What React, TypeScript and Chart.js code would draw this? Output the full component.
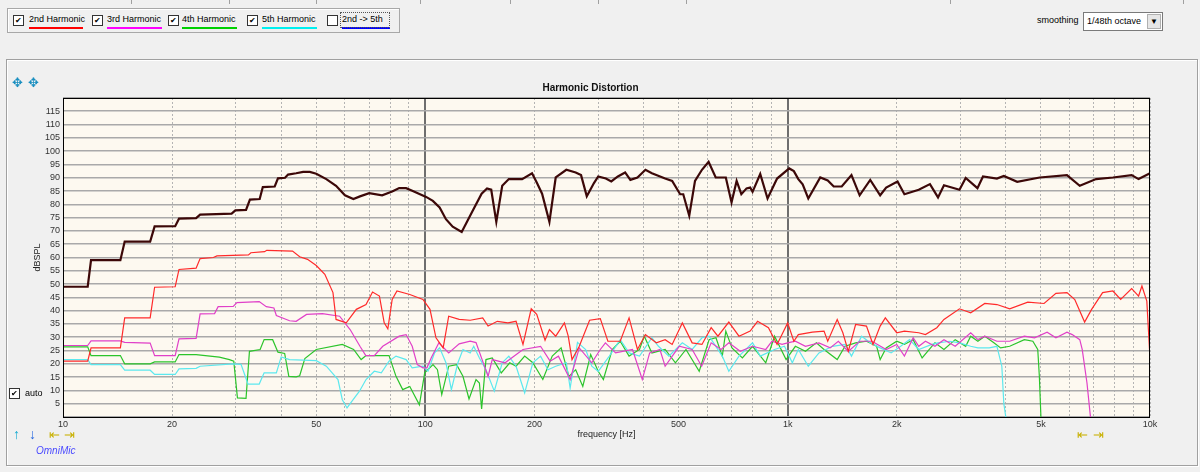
import { useEffect, useRef } from "react";
import { Chart, registerables } from "chart.js";

Chart.register(...registerables);

// fundamental and harmonics, [frequency Hz, dB SPL]
const fundamental: number[][] = [
  [10, 49], [11.7, 49], [11.95, 59], [14.4, 59], [14.8, 66], [17.4, 66], [17.9, 71.7], [20.4, 71.8],
  [20.9, 74.6], [23.3, 74.8], [23.9, 76.1], [26.5, 76.3], [29.2, 76.5], [29.9, 77.7], [32.0, 77.9],
  [32.8, 81.8], [34.9, 82], [35.6, 86.5], [38.4, 86.7], [39.2, 89.8], [41.0, 90], [41.8, 91.2], [44, 91.7],
  [46, 92.2], [48, 92.2], [50, 91.5], [53.3, 89.5], [56.7, 87], [60, 83.4], [63.3, 82], [66, 83], [70, 84.2],
  [76, 83.4], [81, 84.8], [84.7, 86.1], [88.5, 86.1], [92, 85.1], [100.5, 82.8], [104.9, 81.3], [109.5, 78.8],
  [114, 74.4], [119, 71.6], [126, 69.6], [135, 77.5], [143, 84], [148, 86], [152, 85.5], [157, 73.4], [163, 87],
  [170, 89.5], [185, 89.5], [197, 91.7], [203, 88.2], [210, 84], [220, 73.4], [229, 90.1], [245, 93], [260, 92],
  [269, 91], [279, 83], [292, 88], [300, 90.5], [315, 89.7], [326, 88.6], [340, 90.5], [356, 92], [368, 89.2],
  [385, 90.1], [405, 93], [422, 91.7], [459, 89.7], [480, 88.8], [505, 83.8], [515, 83.8], [535, 75.7],
  [555, 88.8], [580, 93], [605, 96], [633, 90.1], [675, 90.1], [700, 80.7], [723, 88.8], [745, 83.8], [770, 86],
  [788, 86.3], [800, 84.7], [840, 91.4], [880, 82.2], [935, 89.7], [1010, 93.5], [1040, 92.5], [1070, 89.5],
  [1100, 87.5], [1140, 82.2], [1230, 90.1], [1290, 89], [1340, 86.7], [1410, 86.7], [1500, 91], [1580, 83.4],
  [1690, 89.2], [1800, 83.4], [1870, 86.3], [2010, 88.6], [2100, 83.8], [2300, 85.5], [2470, 87.6], [2600, 82.6],
  [2700, 87.2], [2980, 85.5], [3100, 89.9], [3340, 86.1], [3460, 90.5], [3780, 89.7], [3950, 90.7], [4300, 88.5],
  [4960, 90.1], [5900, 91], [6400, 87], [7100, 89.5], [7900, 90.1], [8900, 91], [9300, 89.5], [10000, 91.7],
];

const harmonic2: number[][] = [
  [10, 21], [11.7, 21], [11.95, 26], [14.4, 26], [14.8, 37.3], [17.4, 37.3], [17.9, 48.8], [20.4, 49],
  [20.9, 55.5], [23.3, 56], [23.9, 59.6], [26, 60], [26.6, 60.6], [32.5, 61], [33, 61.8], [36, 62.2],
  [36.5, 62.7], [43, 62.4], [45, 60.3], [47.3, 59.3], [50, 57], [52.8, 53.7], [55.6, 46.8], [56.7, 36.7],
  [60.5, 35.4], [64.5, 40.5], [68.6, 42.3], [71.5, 47], [74.7, 45.5], [77, 35.4], [78.8, 33.2], [81, 44.2],
  [83.5, 47.4], [90.6, 46.1], [98.5, 44.2], [103, 40.5], [107, 29.8], [112, 26], [116, 37.9], [124, 36.7],
  [133, 36.4], [144, 37.3], [149, 34.2], [158, 36], [169, 35.4], [178, 36], [186, 27.3], [196, 40.7],
  [203, 38.6], [214, 28.9], [220, 32.9], [229, 30.4], [242, 35.4], [248, 30.4], [254, 21.6], [266, 26.6],
  [284, 36.4], [304, 37], [319, 28.5], [345, 28.5], [365, 37.3], [385, 25.4], [405, 31], [434, 27.9],
  [459, 29.1], [480, 27.3], [512, 35.4], [545, 27.9], [580, 27.3], [615, 33.6], [642, 30.4], [688, 35.7],
  [734, 30.4], [788, 32.3], [826, 36], [885, 33.6], [935, 27.3], [1000, 35.4], [1040, 28.5], [1070, 31],
  [1170, 31.9], [1260, 32.3], [1290, 28.5], [1370, 36.7], [1420, 31.7], [1470, 24.7], [1540, 34.8],
  [1650, 34.2], [1720, 27.3], [1800, 34.2], [1860, 37.3], [2000, 31.7], [2100, 32.3], [2300, 31.7],
  [2400, 31], [2580, 33.6], [2700, 36.7], [2980, 40.7], [3200, 39.2], [3500, 42.7], [3780, 42.3],
  [4100, 40.7], [4600, 43.2], [5100, 42.7], [5500, 46.5], [5900, 46.8], [6200, 44.2], [6600, 35.7],
  [6900, 40.5], [7400, 46.8], [7900, 47.4], [8300, 44.2], [8900, 48.3], [9300, 45.5], [9500, 49.3],
  [9800, 43.6], [10000, 22.2],
];

const harmonic3: number[][] = [
  [10, 26.9], [11.7, 26.9], [11.95, 28.6], [14.4, 28.6], [14.8, 28.1], [17.4, 27.8], [17.9, 23.1], [20.4, 23.1],
  [20.9, 29.4], [23.3, 29.6], [23.9, 38.8], [26.2, 38.9], [26.8, 41.5], [29.5, 41.6], [30.2, 43], [34.8, 43.4],
  [36.4, 41.5], [38.2, 41], [38.8, 38.2], [42.2, 36.2], [44, 36], [47, 38.6], [52, 38.9], [58, 37.9], [62, 32.9],
  [66, 26.6], [68.5, 23.1], [72.3, 23.1], [76.3, 26.6], [84.7, 30.4], [88.5, 31], [92, 26.6], [95, 19.7],
  [98.5, 18.5], [101, 18.5], [104, 22.5], [109, 27.9], [116, 24.1], [124, 27.5], [133, 28.5], [138, 28],
  [149, 15.3], [153, 21.6], [166, 20.4], [186, 25.4], [208, 26.6], [221, 21], [233, 22.9], [251, 14.1],
  [266, 26], [288, 20.4], [304, 25.4], [314, 27.9], [335, 24.1], [373, 25.4], [397, 14.1], [416, 24.1],
  [444, 25.4], [459, 19.1], [502, 26.6], [545, 25.4], [579, 19.1], [615, 27.9], [655, 25.4], [688, 27.9],
  [740, 24.7], [800, 26.6], [870, 25.4], [905, 28.5], [965, 27.3], [1000, 27.9], [1050, 28.5], [1120, 26.6],
  [1220, 27.9], [1310, 26], [1380, 28.5], [1470, 24.7], [1580, 28.5], [1710, 28.5], [1770, 27.3],
  [1870, 25.4], [2000, 27.3], [2100, 22.9], [2220, 29.8], [2300, 26.6], [2400, 28.5], [2550, 26.6],
  [2700, 29.1], [2900, 26.6], [3200, 31.7], [3350, 29.1], [3500, 30.4], [3780, 28.5], [4100, 28.5],
  [4500, 30.4], [4800, 29.8], [5200, 31.9], [5500, 29.8], [5900, 31.9], [6100, 31], [6400, 29.1],
  [6500, 25.4], [6700, 12.8], [6850, 0],
];

const harmonic4: number[][] = [
  [10, 26.4], [11.7, 26.4], [11.95, 23.1], [14.4, 23.1], [14.8, 20], [17.4, 20], [17.9, 20.7], [20.4, 20.7],
  [20.9, 23.5], [23.3, 23.5], [27, 22.5], [28.8, 21.6], [29.6, 21], [30.3, 7.2], [32, 7], [32.7, 24.7],
  [35, 25.4], [35.9, 29.1], [37.9, 29.1], [39.2, 24.4], [40.9, 23.9], [42, 15.3], [44, 15.1], [45, 15.5],
  [46.5, 22], [50, 25.4], [59, 27.3], [63.4, 25.4], [66.5, 21.6], [68.6, 23.1], [79.4, 23.1], [83, 15.3],
  [86.6, 10.3], [90.6, 11.5], [96.3, 4.6], [99.6, 16.6], [105, 19.7], [108, 17.8], [111, 8.4], [116, 19.1],
  [122, 19.7], [127, 15.3], [132, 6.8], [138, 14.1], [141, 12.8], [143, 3], [147, 21.6], [153, 22.2],
  [162, 16.6], [171, 20.4], [178, 19.1], [188, 22.9], [198, 20.4], [211, 14.1], [224, 22.9], [237, 26],
  [249, 15.3], [260, 17.8], [272, 11.5], [286, 23.5], [300, 17.2], [310, 14.1], [328, 25.4], [345, 28.5],
  [365, 22.9], [390, 25.4], [402, 30.4], [422, 24.1], [459, 25.4], [490, 20.4], [524, 25.4], [570, 17.2],
  [607, 29.1], [634, 29.8], [660, 22.9], [675, 32.3], [702, 26], [750, 22.2], [800, 26.6], [870, 20.4],
  [920, 30.4], [990, 21.6], [1050, 26.6], [1120, 24.7], [1200, 27.9], [1260, 25.4], [1370, 21.6],
  [1440, 26.6], [1540, 27.9], [1650, 28.5], [1760, 26.6], [1800, 21.6], [1870, 26], [2000, 28.5],
  [2100, 27.3], [2220, 29.1], [2350, 22.2], [2500, 26.6], [2550, 27.9], [2700, 25.4], [2900, 29.1],
  [3100, 26.6], [3200, 30.4], [3350, 28.5], [3500, 30.4], [3700, 28], [3870, 26], [4100, 26.6],
  [4500, 29.1], [4750, 28.5], [4900, 25.4], [4950, 15.3], [5000, 0],
];

const harmonic5: number[][] = [
  [10, 21.6], [11.7, 21.6], [11.95, 19.7], [14.4, 19.7], [14.8, 17.6], [17.4, 17.6], [17.9, 16], [20.4, 16],
  [20.9, 18.1], [23.3, 18.3], [23.9, 19.1], [29.5, 20], [31, 19.8], [32.4, 12.4], [34.8, 12.4], [35.9, 16.6],
  [38.8, 16.6], [40, 22.6], [42.2, 21.6], [50, 21.2], [53.3, 19.1], [57.4, 14.1], [59, 6.5], [60.8, 3.4],
  [63.2, 6.5], [65.8, 9.7], [68.6, 14.1], [72.3, 17.2], [75.6, 16.6], [79.4, 21], [83, 22.9], [88.5, 21.6],
  [92, 18.5], [98.5, 19.1], [101.7, 17.2], [106, 24.1], [109.5, 26], [114, 20.4], [118, 10.3], [123, 20.4],
  [127, 25.4], [133, 24.1], [136, 26.6], [141, 22.2], [147, 17.8], [155, 9.7], [163, 20.4], [170, 22.9],
  [178, 19.1], [188, 9.1], [198, 20.4], [208, 22.9], [218, 17.8], [229, 19.1], [245, 20.4], [251, 10.9],
  [263, 28.1], [277, 25.4], [288, 19.1], [300, 17.2], [322, 22.9], [345, 29.1], [365, 24.1], [390, 22.9],
  [422, 29.8], [440, 26.6], [470, 22.9], [512, 27.9], [545, 25.4], [580, 29.8], [607, 30.4], [660, 22.9],
  [688, 17.2], [734, 22.9], [800, 27.9], [840, 22.9], [920, 25.4], [980, 26.6], [1030, 20.4], [1070, 25.4],
  [1140, 19.1], [1220, 24.1], [1330, 26.6], [1440, 27.3], [1500, 22.9], [1600, 30.4], [1690, 27.9],
  [1800, 26], [1930, 24.1], [2050, 26.6], [2170, 29.1], [2300, 25.4], [2500, 27.3], [2600, 27.9],
  [2800, 28.5], [2980, 27.9], [3200, 26.6], [3350, 26], [3600, 26], [3780, 26.6], [3900, 19.1],
  [3950, 5], [4000, 0],
];

// vertical grid lines and which of them carry a label
const xGridFreqs = [
  10, 20, 30, 40, 50, 60, 70, 80, 90,
  100, 200, 300, 400, 500, 600, 700, 800, 900,
  1000, 2000, 3000, 4000, 5000, 6000, 7000, 8000, 9000, 10000,
];
const xLabelFreqs = [10, 20, 50, 100, 200, 500, 1000, 2000, 5000, 10000];
const xLabelTexts = ["10", "20", "50", "100", "200", "500", "1k", "2k", "5k", "10k"];

const legendItems = [
  { label: "2nd Harmonic", color: "#ff0000", checked: true, box: 13, text: 29, w: 54 },
  { label: "3rd Harmonic", color: "#ff00ff", checked: true, box: 92, text: 107, w: 55 },
  { label: "4th Harmonic", color: "#00d000", checked: true, box: 168, text: 182, w: 55 },
  { label: "5th Harmonic", color: "#00f0f0", checked: true, box: 247, text: 262, w: 55 },
  { label: "2nd -> 5th", color: "#0000ff", checked: false, box: 327, text: 342, w: 48 },
];

const FONT = "Arial";
const toXY = (rows: number[][]) => rows.map(([x, y]) => ({ x, y }));
const isMajor = (v: number) => v === 100 || v === 1000;

// cream plot background, black frame and the title
const plotFrame = {
  id: "plotFrame",
  beforeDraw(chart: any) {
    const { ctx, chartArea } = chart;
    ctx.save();
    ctx.fillStyle = "#fdf9f0";
    ctx.fillRect(chartArea.left, chartArea.top, chartArea.width, chartArea.height);
    ctx.restore();
  },
  afterDraw(chart: any) {
    const { ctx, chartArea } = chart;
    ctx.save();
    ctx.strokeStyle = "#000";
    ctx.lineWidth = 1;
    ctx.strokeRect(chartArea.left + 0.5, chartArea.top + 0.5, chartArea.width - 1, chartArea.height);
    ctx.fillStyle = "#111";
    ctx.font = `bold 10px ${FONT}`;
    ctx.textAlign = "center";
    ctx.textBaseline = "middle";
    ctx.fillText("Harmonic Distortion", (chartArea.left + chartArea.right) / 2 - 16, chartArea.top - 10);
    ctx.restore();
  },
};

function CheckBox({ left, top, checked }: { left: number; top: number; checked: boolean }) {
  return (
    <div
      style={{
        position: "absolute", left, top, width: 9, height: 9, border: "1px solid #333",
        background: "#fff", fontSize: 8, lineHeight: "9px", textAlign: "center", color: "#000",
      }}
    >
      {checked ? "✔" : ""}
    </div>
  );
}

function HarmonicChart() {
  const canvasRef = useRef<HTMLCanvasElement>(null);

  useEffect(() => {
    const line = (label: string, rows: number[][], color: string, width: number) => ({
      label, data: toXY(rows), borderColor: color, backgroundColor: color,
      borderWidth: width, pointRadius: 0, tension: 0, fill: false,
    });

    const chart = new Chart(canvasRef.current!, {
      type: "line",
      data: {
        datasets: [
          line("Fundamental", fundamental, "#3c0808", 2.2),
          line("2nd Harmonic", harmonic2, "#ff2a2a", 1.2),
          line("3rd Harmonic", harmonic3, "#e040c8", 1.2),
          line("5th Harmonic", harmonic5, "#5ce8ee", 1.2),
          line("4th Harmonic", harmonic4, "#2bc42b", 1.2),
        ],
      },
      options: {
        animation: false,
        responsive: true,
        maintainAspectRatio: false,
        layout: { padding: { left: 0, right: 45, top: 38, bottom: 22 } },
        plugins: {
          legend: { display: false },
          tooltip: { enabled: false },
          title: { display: false },
        },
        scales: {
          x: {
            type: "logarithmic",
            min: 10,
            max: 10000,
            afterBuildTicks: (s: any) => {
              s.ticks = xGridFreqs.map((value) => ({ value }));
            },
            afterFit: (s: any) => {
              s.height = 26;
            },
            ticks: {
              autoSkip: false,
              maxRotation: 0,
              padding: 2,
              color: "#333",
              font: { family: FONT, size: 9 },
              callback: (v: any) => {
                const i = xLabelFreqs.indexOf(Number(v));
                return i >= 0 ? xLabelTexts[i] : "";
              },
            },
            grid: {
              drawTicks: false,
              color: (c: any) => (isMajor(c.tick?.value) ? "#6e6e6e" : "#b4b4b4"),
              lineWidth: (c: any) => (isMajor(c.tick?.value) ? 2 : 1),
            },
            border: {
              display: false,
              dash: (c: any) => (isMajor(c.tick?.value) ? [] : [2, 2]),
            },
            title: {
              display: true,
              text: "frequency [Hz]",
              color: "#222",
              font: { family: FONT, size: 9 },
              padding: { top: 0, bottom: 3 },
            },
          },
          y: {
            min: 0,
            max: 120,
            afterFit: (s: any) => {
              s.width = 55;
            },
            ticks: {
              stepSize: 5,
              autoSkip: false,
              padding: 3,
              color: "#333",
              font: { family: FONT, size: 9 },
              callback: (v: any) => (v === 0 || v === 120 ? "" : String(v)),
            },
            grid: { drawTicks: false, color: "#a9a9a9", lineWidth: 1.6 },
            border: { display: false },
            title: {
              display: true,
              text: "dBSPL",
              color: "#222",
              font: { family: FONT, size: 9 },
              padding: { top: 24, bottom: 0 },
            },
          },
        },
      },
      plugins: [plotFrame],
    });

    return () => chart.destroy();
  }, []);

  return (
    <div style={{ position: "absolute", left: 8, top: 60, width: 1187, height: 405 }}>
      <canvas ref={canvasRef} />
    </div>
  );
}

export default function App() {
  const small = { position: "absolute" as const, fontSize: 9, fontFamily: FONT, color: "#000", whiteSpace: "nowrap" as const };
  return (
    <div style={{ position: "fixed", left: 0, top: 0, width: 1200, height: 472, background: "#f0f0f0", overflow: "hidden" }}>
      {/* tab strip remains at the very top */}
      {[131, 229, 316, 420, 510, 598, 686, 950, 1183].map((x) => (
        <div key={x} style={{ position: "absolute", left: x, top: 0, width: 1, height: 4, background: "#a0a0a0" }} />
      ))}

      {/* series selector */}
      <div style={{ position: "absolute", left: 7, top: 8, width: 391, height: 23, border: "1px solid #a8a8a8", boxShadow: "inset 1px 1px 0 #fff" }} />
      {legendItems.map((it) => (
        <div key={it.label}>
          <CheckBox left={it.box} top={15} checked={it.checked} />
          <div style={{ ...small, left: it.text, top: 14 }}>{it.label}</div>
          <div style={{ position: "absolute", left: it.text, top: 27, width: it.w, height: 2, background: it.color }} />
        </div>
      ))}
      <div style={{ position: "absolute", left: 340, top: 12, width: 48, height: 14, border: "1px dotted #555" }} />

      {/* smoothing selector */}
      <div style={{ ...small, left: 1037, top: 15 }}>smoothing</div>
      <div style={{ position: "absolute", left: 1083, top: 12, width: 78, height: 17, border: "1px solid #7a7a7a", background: "#fff" }}>
        <div style={{ ...small, left: 3, top: 3 }}>1/48th octave</div>
        <div style={{ position: "absolute", right: 1, top: 1, width: 14, height: 15, background: "#e6e6e6", border: "1px solid #b0b0b0", boxSizing: "border-box", fontSize: 8, lineHeight: "13px", textAlign: "center", color: "#000" }}>▼</div>
      </div>

      {/* graph panel */}
      <div style={{ position: "absolute", left: 6, top: 59, width: 1190, height: 405, border: "1px solid #a0a0a0", boxShadow: "inset 1px 1px 0 #fff, 1px 1px 0 #fff" }} />
      <HarmonicChart />

      {/* panel controls */}
      <div style={{ ...small, left: 12, top: 75, fontSize: 13, color: "#1a8fc0" }}>✥</div>
      <div style={{ ...small, left: 28, top: 75, fontSize: 13, color: "#1a8fc0" }}>✥</div>
      <CheckBox left={9} top={388} checked={true} />
      <div style={{ ...small, left: 25, top: 388 }}>auto</div>
      <div style={{ ...small, left: 13, top: 426, fontSize: 14, fontWeight: "bold", color: "#10a8d0" }}>↑</div>
      <div style={{ ...small, left: 29, top: 426, fontSize: 14, fontWeight: "bold", color: "#2a6ae0" }}>↓</div>
      <div style={{ ...small, left: 49, top: 427, fontSize: 13, color: "#c8b000" }}>⇤</div>
      <div style={{ ...small, left: 64, top: 427, fontSize: 13, color: "#c8b000" }}>⇥</div>
      <div style={{ ...small, left: 1077, top: 427, fontSize: 13, color: "#c8b000" }}>⇤</div>
      <div style={{ ...small, left: 1093, top: 427, fontSize: 13, color: "#c8b000" }}>⇥</div>
      <div style={{ ...small, left: 36, top: 445, fontStyle: "italic", fontSize: 10, color: "#4a4aff" }}>OmniMic</div>
    </div>
  );
}
